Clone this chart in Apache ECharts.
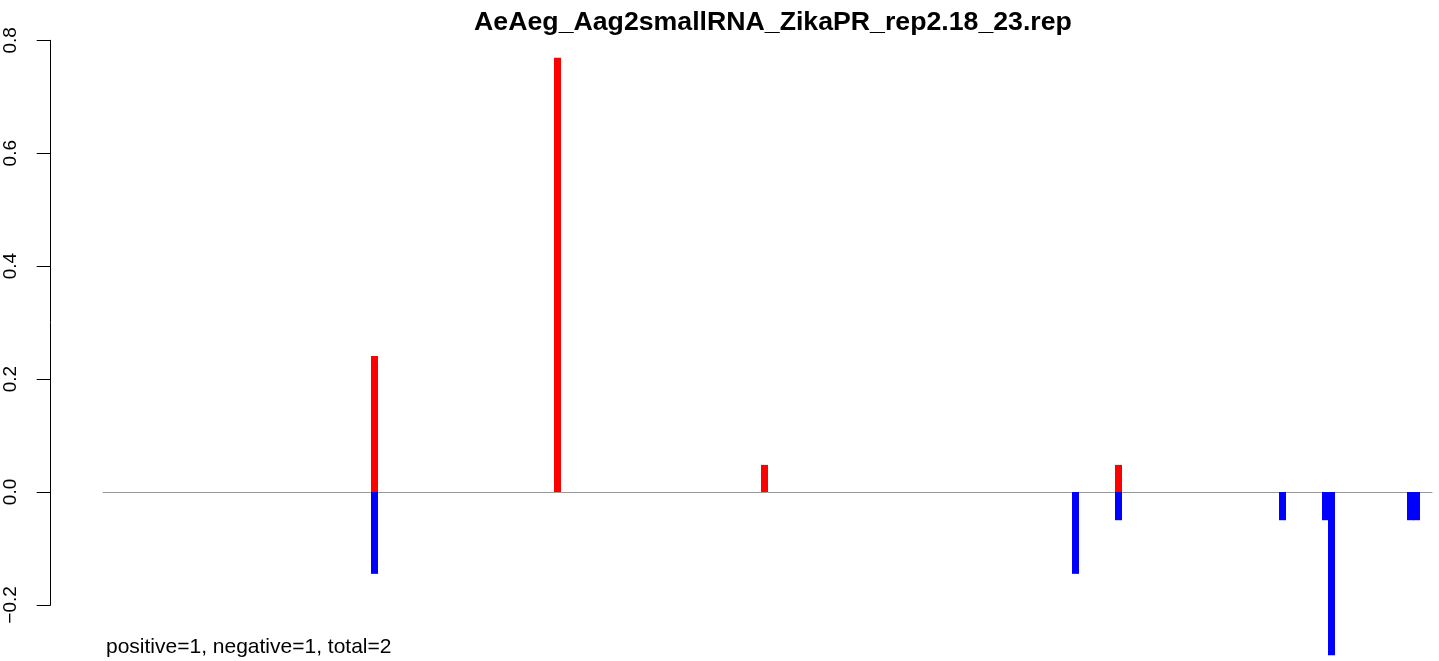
<!DOCTYPE html>
<html>
<head>
<meta charset="utf-8">
<script src="https://cdn.jsdelivr.net/npm/echarts@6/dist/echarts.min.js"></script>
<style>
html,body{margin:0;padding:0;background:#fff;}
#chart{width:1439px;height:661px;}
</style>
</head>
<body>
<div id="chart"></div>
<script>
// Chart data
const titleText = "AeAeg_Aag2smallRNA_ZikaPR_rep2.18_23.rep";
const noteText = "positive=1, negative=1, total=2";
const positions = [271.5, 454.5, 661.5, 972.5, 1015.5, 1179.5, 1222.5, 1228.5, 1307.5, 1313.5];
const positiveValues = [0.241, 0.769, 0.048, null, 0.048, null, null, null, null, null];
const negativeValues = [-0.145, null, null, -0.145, -0.05, -0.05, -0.05, -0.289, -0.05, -0.05];
const xRange = [0, 1329];
const yTicks = [-0.2, 0.0, 0.2, 0.4, 0.6, 0.8];

const posData = [];
const negData = [];
positions.forEach((p, i) => {
  if (positiveValues[i] !== null) posData.push([p, positiveValues[i]]);
  if (negativeValues[i] !== null) negData.push([p, negativeValues[i]]);
});

const chart = echarts.init(document.getElementById('chart'), null, {renderer: 'canvas'});
const FONT = '"Liberation Sans", Arial, Helvetica, sans-serif';
chart.setOption({
  backgroundColor: '#ffffff',
  animation: false,
  title: [
    {
      text: titleText,
      left: 768,
      textAlign: 'center',
      top: 4,
      textStyle: {fontFamily: FONT, fontWeight: 'bold', fontSize: 26.7, color: '#000'}
    },
    {
      text: noteText,
      left: 101,
      top: 632,
      textStyle: {fontFamily: FONT, fontWeight: 'normal', fontSize: 21, color: '#000'}
    }
  ],
  grid: {left: 103, right: 7, top: 40.3, height: 564.6, containLabel: false},
  xAxis: {
    type: 'value',
    min: xRange[0],
    max: xRange[1],
    axisLine: {show: true, onZero: true, lineStyle: {color: '#9a9a9a', width: 1}},
    axisTick: {show: false},
    axisLabel: {show: false},
    splitLine: {show: false}
  },
  yAxis: {
    type: 'value',
    min: yTicks[0],
    max: yTicks[yTicks.length - 1],
    interval: 0.2,
    offset: 52.3,
    axisLine: {show: true, onZero: false, lineStyle: {color: '#000', width: 1}},
    axisTick: {show: true, length: 14, lineStyle: {color: '#000', width: 1}},
    axisLabel: {
      rotate: 90,
      margin: 30,
      fontFamily: FONT,
      fontSize: 19,
      color: '#000',
      formatter: v => (v < 0 ? '\u2212' : '') + Math.abs(v).toFixed(1)
    },
    splitLine: {show: false}
  },
  series: [
    {
      name: 'positive',
      type: 'bar',
      data: posData,
      barWidth: 7,
      barGap: '-100%',
      clip: false,
      itemStyle: {color: '#ff0000'},
      z: 3
    },
    {
      name: 'negative',
      type: 'bar',
      data: negData,
      barWidth: 7,
      barGap: '-100%',
      clip: false,
      itemStyle: {color: '#0000ff'},
      z: 3
    }
  ]
});
</script>
</body>
</html>
